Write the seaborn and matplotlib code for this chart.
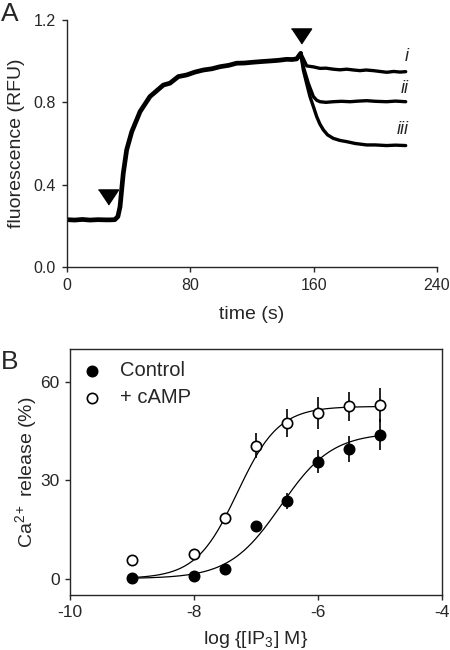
import numpy as np
import pandas as pd
import seaborn as sns
import matplotlib.pyplot as plt

sns.set_style("ticks")
plt.rcParams['font.family'] = ['Liberation Sans', 'DejaVu Sans']
plt.rcParams['mathtext.fontset'] = 'custom'
plt.rcParams['mathtext.rm'] = 'Liberation Sans'
plt.rcParams['mathtext.it'] = 'Liberation Sans:italic'
plt.rcParams['axes.unicode_minus'] = False

# panel A: fluorescence trace
t_shared = [0, 5, 10, 15, 20, 25, 28, 31, 33, 34.4, 36.5, 38.7, 42, 47.4, 53.8, 62.5,
            66.8, 72.2, 77.6, 83, 88.4, 94, 99.2, 105, 110, 115, 120.9, 126, 131.7,
            137, 142.5, 146, 149, 151.6]
f_shared = [0.230, 0.228, 0.231, 0.228, 0.230, 0.229, 0.229, 0.230, 0.245, 0.293, 0.455,
            0.569, 0.657, 0.755, 0.828, 0.884, 0.893, 0.925, 0.933, 0.947, 0.957, 0.963,
            0.973, 0.980, 0.990, 0.991, 0.995, 0.998, 1.001, 1.004, 1.009, 1.008, 1.011, 1.038]

t_i = [151.6, 155.5, 160, 164.1, 168, 172.7, 177, 181.4, 186, 190, 194, 198.7, 203,
       207.4, 212, 216, 219.7]
f_i = [1.038, 0.977, 0.972, 0.965, 0.966, 0.961, 0.958, 0.961, 0.957, 0.954, 0.957,
       0.954, 0.950, 0.946, 0.950, 0.947, 0.949]

t_ii = [151.6, 153.3, 156.5, 159.8, 162, 164.1, 168, 172.7, 178, 183.6, 189, 194.4,
        200, 207.4, 213, 219.7]
f_ii = [1.038, 0.973, 0.893, 0.828, 0.810, 0.803, 0.800, 0.803, 0.805, 0.803, 0.806,
        0.808, 0.805, 0.803, 0.806, 0.803]

t_iii = [151.6, 153.3, 155.5, 157.6, 160, 162, 164, 166.3, 169, 172.7, 177, 181.4,
         187, 194.4, 200, 207.4, 213, 219.7]
f_iii = [1.038, 0.957, 0.890, 0.828, 0.775, 0.730, 0.695, 0.666, 0.642, 0.625, 0.615,
         0.609, 0.600, 0.593, 0.593, 0.590, 0.592, 0.590]

arrow_t = [26.8, 151.6]
arrow_f = [0.338, 1.123]

trace_labels = ['i', 'ii', 'iii']
trace_label_f = [1.022, 0.868, 0.666]

# panel B: concentration-response
log_ip3 = [-9, -8, -7.5, -7, -6.5, -6, -5.5, -5]
control = [0.3, 0.9, 3.05, 16.0, 23.6, 35.6, 39.5, 43.9]
control_err = [0, 0, 0, 0.8, 2.4, 3.5, 3.9, 4.7]
camp = [5.6, 7.6, 18.6, 40.5, 47.5, 50.5, 52.6, 52.9]
camp_err = [0, 0, 0.8, 3.8, 4.3, 5.0, 4.4, 5.3]

# fitted Hill curves (top, logEC50, slope)
control_fit = (44.5, -6.6, 1.05)
camp_fit = (52.5, -7.3, 1.3)

fig = plt.figure(figsize=(4.5, 6.5), dpi=100)
axA = fig.add_axes([67 / 450, 1 - 267 / 650, 370 / 450, 247 / 650])
axB = fig.add_axes([70 / 450, 1 - 595 / 650, 372 / 450, 246 / 650])

for t, f, lw in [(t_shared, f_shared, 3.4), (t_i, f_i, 2.4), (t_ii, f_ii, 2.4), (t_iii, f_iii, 2.4)]:
    sns.lineplot(x=t, y=f, ax=axA, color='black', lw=lw, estimator=None, sort=False)

tri = [(-1, 0.75), (1, 0.75), (0, -0.75)]
axA.plot(arrow_t, arrow_f, ls='none', marker=tri, ms=14.5, color='black', clip_on=False)
for lab, f in zip(trace_labels, trace_label_f):
    axA.text(221.5, f, lab, ha='right', va='center', fontsize=13, style='italic')

axA.set_xlim(0, 240)
axA.set_ylim(0, 1.2)
axA.set_xticks([0, 80, 160, 240])
axA.set_yticks([0.0, 0.4, 0.8, 1.2])
axA.set_yticklabels(['0.0', '0.4', '0.8', '1.2'])
axA.set_xlabel('time (s)', fontsize=14, labelpad=9)
axA.set_ylabel('fluorescence (RFU)', fontsize=14, labelpad=6)
axA.tick_params(labelsize=11.5, length=3.5, width=1, pad=4.5)
sns.despine(ax=axA)
for s in axA.spines.values():
    s.set_linewidth(1)

# panel B
xs = np.linspace(-9, -5, 200)
for (top, ec, h) in [control_fit, camp_fit]:
    sns.lineplot(x=xs, y=top / (1 + 10 ** (h * (ec - xs))), ax=axB, color='black', lw=0.9)

axB.errorbar(log_ip3, control, yerr=control_err, fmt='none', ecolor='black', elinewidth=1.2, capsize=0, zorder=2)
axB.errorbar(log_ip3, camp, yerr=camp_err, fmt='none', ecolor='black', elinewidth=1.2, capsize=0, zorder=2)
sns.scatterplot(x=log_ip3, y=control, ax=axB, color='black', edgecolor='black', s=55, lw=1.2,
                label='Control', zorder=3)
sns.scatterplot(x=log_ip3, y=camp, ax=axB, color='white', edgecolor='black', s=55, lw=1.2,
                label='+ cAMP', zorder=3)

axB.set_xlim(-10, -4)
axB.set_ylim(-5, 70)
axB.set_xticks([-10, -8, -6, -4])
axB.set_yticks([0, 30, 60])
axB.set_xlabel('log {[IP$_3$] M}', fontsize=14, labelpad=6)
axB.set_ylabel('Ca$^{2+}$ release (%)', fontsize=14, labelpad=1)
axB.tick_params(labelsize=12.5, length=3.5, width=1, pad=4)
for s in axB.spines.values():
    s.set_linewidth(1)
axB.legend(loc='upper left', bbox_to_anchor=(0.0, 1.0), frameon=False, fontsize=14.5,
           handlelength=1.0, handletextpad=0.9, labelspacing=0.4, borderaxespad=0.2)

fig.text(0.002, 1 - 2 / 650, 'A', va='top', ha='left', fontsize=19)
fig.text(0.002, 1 - 350 / 650, 'B', va='top', ha='left', fontsize=19)

fig.savefig('out.png', dpi=100)
